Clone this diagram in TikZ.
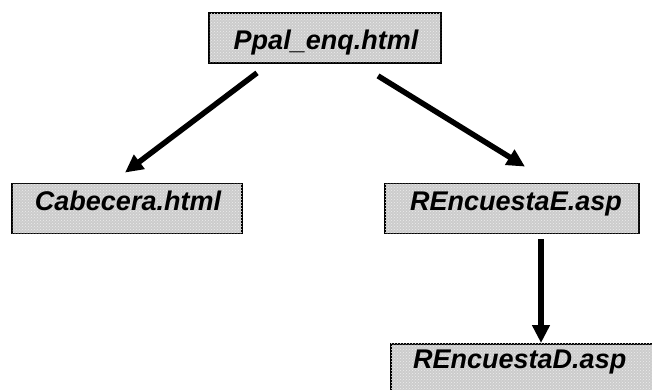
\documentclass[tikz,border=0pt]{standalone}
\usepackage{fontspec}
\setmainfont{Liberation Sans}
\usetikzlibrary{arrows.meta,patterns}
\definecolor{boxgray}{RGB}{204,204,204}
\tikzset{
  filebox/.style={draw=black, line width=1.8pt, fill=boxgray,
    postaction={pattern=crosshatch dots, pattern color=white!85!gray},
    inner sep=0pt, minimum width=#1, minimum height=50pt},
  fname/.style={font=\fontsize{27}{31}\selectfont\bfseries\itshape, inner sep=0pt, anchor=base},
  arr/.style={line width=5.5pt, -{Triangle[length=18pt,width=17pt]}}
}
\begin{document}
\begin{tikzpicture}[x=1pt,y=-1pt]
\useasboundingbox (0,0) rectangle (652,390);
\clip (0,0) rectangle (652,390);
% boxes
\node[filebox=232pt] (P) at (325,38) {};
\node[filebox=230pt] (C) at (127,208.5) {};
\node[filebox=254pt] (E) at (512,208.5) {};
\node[filebox=280pt, minimum height=60pt, anchor=north west] (D) at (390,343) {};
% texts
\node[fname] (Pt) at (326,50) {Ppal\_enq.html};
\node[fname] (Ct) at (128,210) {Cabecera.html};
\node[fname] (Et) at (516,210) {REncuestaE.asp};
\node[fname, anchor=base west] (Dt) at (413,368) {REncuestaD.asp};
% arrows
\draw[arr] ([xshift=-68pt,yshift=-9pt]P.south) -- ([xshift=-2pt,yshift=10pt]C.north);
\draw[arr] ([xshift=53pt,yshift=-12pt]P.south) -- ([xshift=13pt,yshift=16pt]E.north);
\draw[arr] ([xshift=29pt,yshift=-5pt]E.south) -- ([xshift=29pt]E.south |- D.north);
\end{tikzpicture}
\end{document}
